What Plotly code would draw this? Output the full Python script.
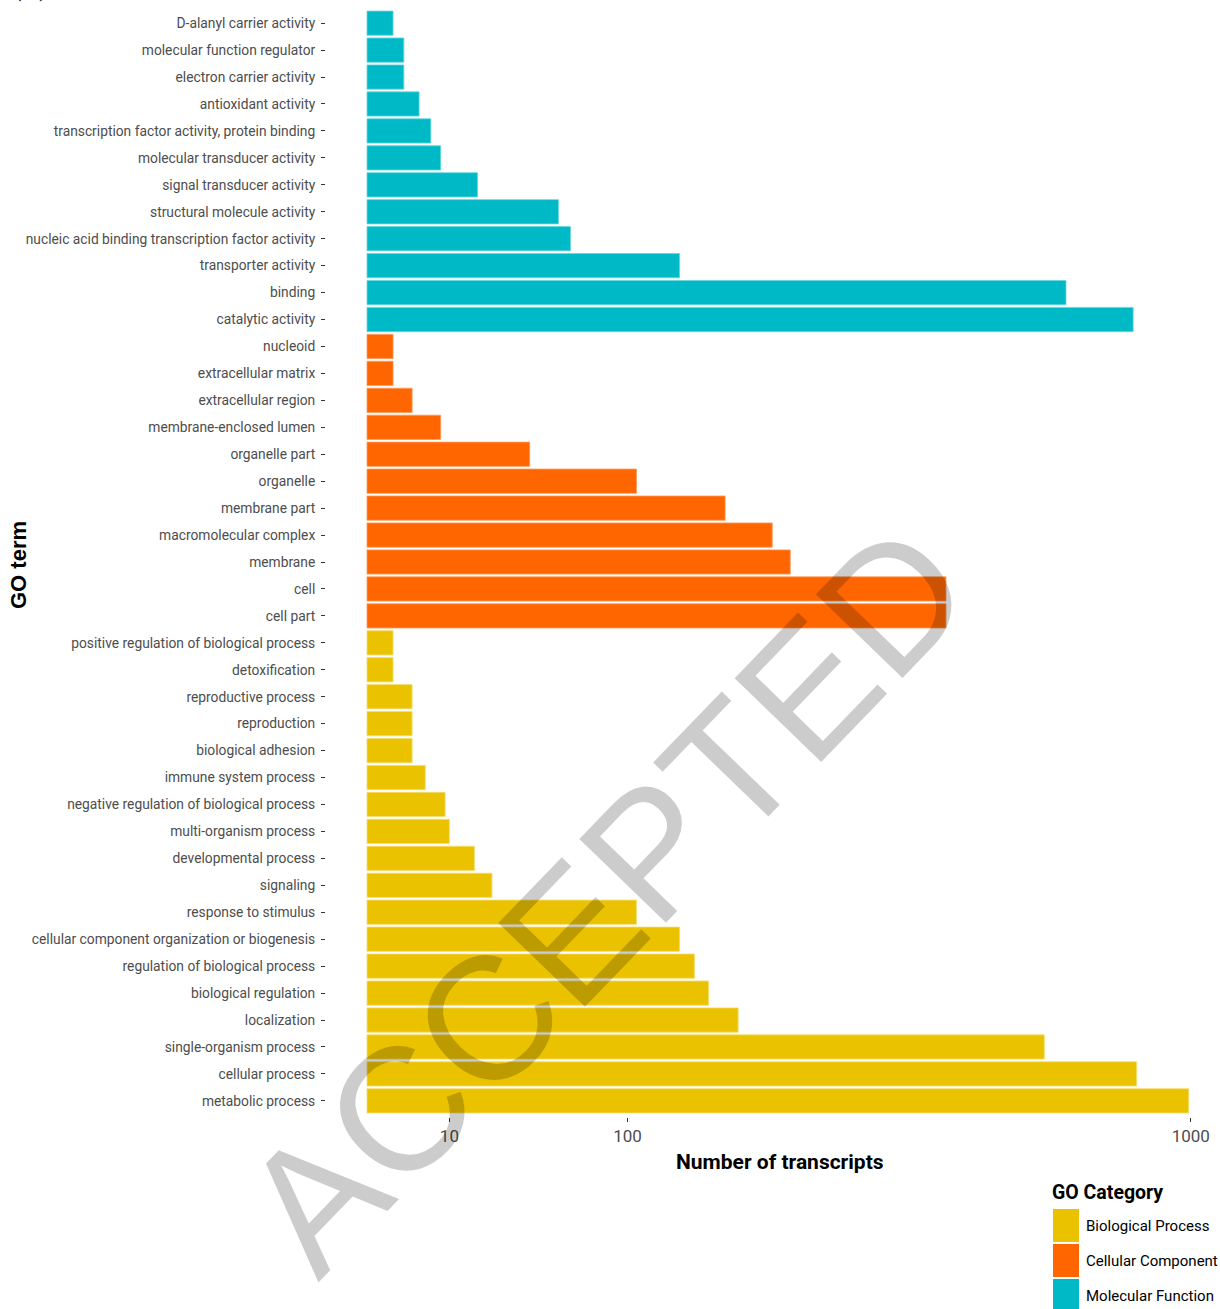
import numpy as np
import plotly.graph_objects as go

# GO terms per category, listed top to bottom as displayed
mf_terms = [
    "D-alanyl carrier activity", "molecular function regulator", "electron carrier activity",
    "antioxidant activity", "transcription factor activity, protein binding",
    "molecular transducer activity", "signal transducer activity", "structural molecule activity",
    "nucleic acid binding transcription factor activity", "transporter activity", "binding",
    "catalytic activity",
]
mf_counts = [1, 2, 2, 4, 6, 8, 18, 54, 61, 144, 720, 865]

cc_terms = [
    "nucleoid", "extracellular matrix", "extracellular region", "membrane-enclosed lumen",
    "organelle part", "organelle", "membrane part", "macromolecular complex", "membrane",
    "cell", "cell part",
]
cc_counts = [1, 1, 3, 8, 39, 107, 189, 242, 264, 494, 494]

bp_terms = [
    "positive regulation of biological process", "detoxification", "reproductive process",
    "reproduction", "biological adhesion", "immune system process",
    "negative regulation of biological process", "multi-organism process",
    "developmental process", "signaling", "response to stimulus",
    "cellular component organization or biogenesis", "regulation of biological process",
    "biological regulation", "localization", "single-organism process", "cellular process",
    "metabolic process",
]
bp_counts = [1, 1, 3, 3, 3, 5, 9, 10, 17, 23, 107, 144, 158, 172, 203, 676, 873, 995]

categories = ["Biological Process", "Cellular Component", "Molecular Function"]
colors = {"Biological Process": "#EBC200", "Cellular Component": "#FF6600", "Molecular Function": "#00B9C6"}
edge = {"Biological Process": "#F5DC70", "Cellular Component": "#FF9A5C", "Molecular Function": "#66D6DD"}

x_ticks = [10, 100, 1000]

# figure geometry (pixels)
W, H = 1220, 1309
L, R, T, B = 326, 0, 7, 192
pw, ph = W - L - R, H - T - B


def px_x(p):
    return (p - L) / pw


def px_y(p):
    return (H - B - p) / ph


# display order: first listed term at the top
order_top_down = mf_terms + cc_terms + bp_terms
category_array = order_top_down[::-1]

fig = go.Figure()
series = {
    "Biological Process": (bp_terms, bp_counts),
    "Cellular Component": (cc_terms, cc_counts),
    "Molecular Function": (mf_terms, mf_counts),
}
for cat in categories:
    terms, counts = series[cat]
    fig.add_trace(go.Bar(
        y=terms,
        x=np.sqrt(np.array(counts, dtype=float)),  # square-root scaled axis
        orientation="h",
        width=0.9,
        name=cat,
        marker=dict(color=colors[cat], line=dict(color=edge[cat], width=0.8)),
        showlegend=False,
        customdata=counts,
        hovertemplate="%{y}: %{customdata}<extra></extra>",
    ))

# sqrt scale: 0 sits at x=367px, 26.05 px per sqrt-unit
x0_px, unit = 367, 26.05
x_lo = (L - x0_px) / unit
x_hi = (W - R - x0_px) / unit

label_font = "Roboto, Liberation Sans, Arial, sans-serif"

fig.update_layout(
    width=W, height=H,
    margin=dict(l=L, r=R, t=T, b=B, pad=0),
    paper_bgcolor="white", plot_bgcolor="white",
    barmode="overlay",
    font=dict(family=label_font, color="#4D4D4D"),
    xaxis=dict(
        range=[x_lo, x_hi], showgrid=False, zeroline=False, showline=False,
        automargin=False,
        tickvals=list(np.sqrt(x_ticks)), ticktext=[str(v) for v in x_ticks],
        ticks="outside", ticklen=4, tickwidth=1, tickcolor="#333333",
        tickfont=dict(size=17, color="#4D4D4D", family=label_font),
    ),
    yaxis=dict(
        type="category", categoryorder="array", categoryarray=category_array,
        range=[-0.6, len(category_array) - 0.4],
        automargin=False,
        showgrid=False, zeroline=False, showline=False,
        ticks="outside", ticklen=4, tickwidth=1, tickcolor="#333333",
        tickfont=dict(size=13.8, color="#4D4D4D", family=label_font),
        ticklabelstandoff=3,
    ),
)


def note(text, x, y, **kw):
    d = dict(text=text, x=x, y=y, xref="paper", yref="paper", showarrow=False)
    d.update(kw)
    return d


annotations = [
    note("<b>Number of transcripts</b>", px_x(780), px_y(1162), xanchor="center", yanchor="middle",
         font=dict(size=21, color="black", family=label_font)),
    note("<b>GO term</b>", px_x(18), px_y(565), textangle=-90, xanchor="center", yanchor="middle",
         font=dict(size=22, color="black", family="Liberation Sans, Arial, sans-serif")),
    note("<b>GO Category</b>", px_x(1050), px_y(1192), xanchor="left", yanchor="middle",
         font=dict(size=19.5, color="black", family=label_font)),
    note("(B)", px_x(30), px_y(4), xanchor="center", yanchor="bottom",
         font=dict(size=26, color="black", family="Liberation Serif, Times New Roman, serif")),
]

shapes = []
key_tops = [1209, 1244, 1279]
for cat, top in zip(categories, key_tops):
    shapes.append(dict(type="rect", xref="paper", yref="paper",
                       x0=px_x(1053), x1=px_x(1079), y0=px_y(top + 33), y1=px_y(top),
                       fillcolor=colors[cat], line=dict(width=0)))
    annotations.append(note(cat, px_x(1084), px_y(top + 17), xanchor="left", yanchor="middle",
                            font=dict(size=15, color="black", family=label_font)))

# watermark
annotations.append(note("ACCEPTED", px_x(605), px_y(898), xanchor="center", yanchor="middle",
                        textangle=-46,
                        font=dict(size=175, color="rgba(0,0,0,0.2)",
                                  family="Liberation Sans, Arial, sans-serif")))

fig.update_layout(annotations=annotations, shapes=shapes)

fig.write_html("out.html")
